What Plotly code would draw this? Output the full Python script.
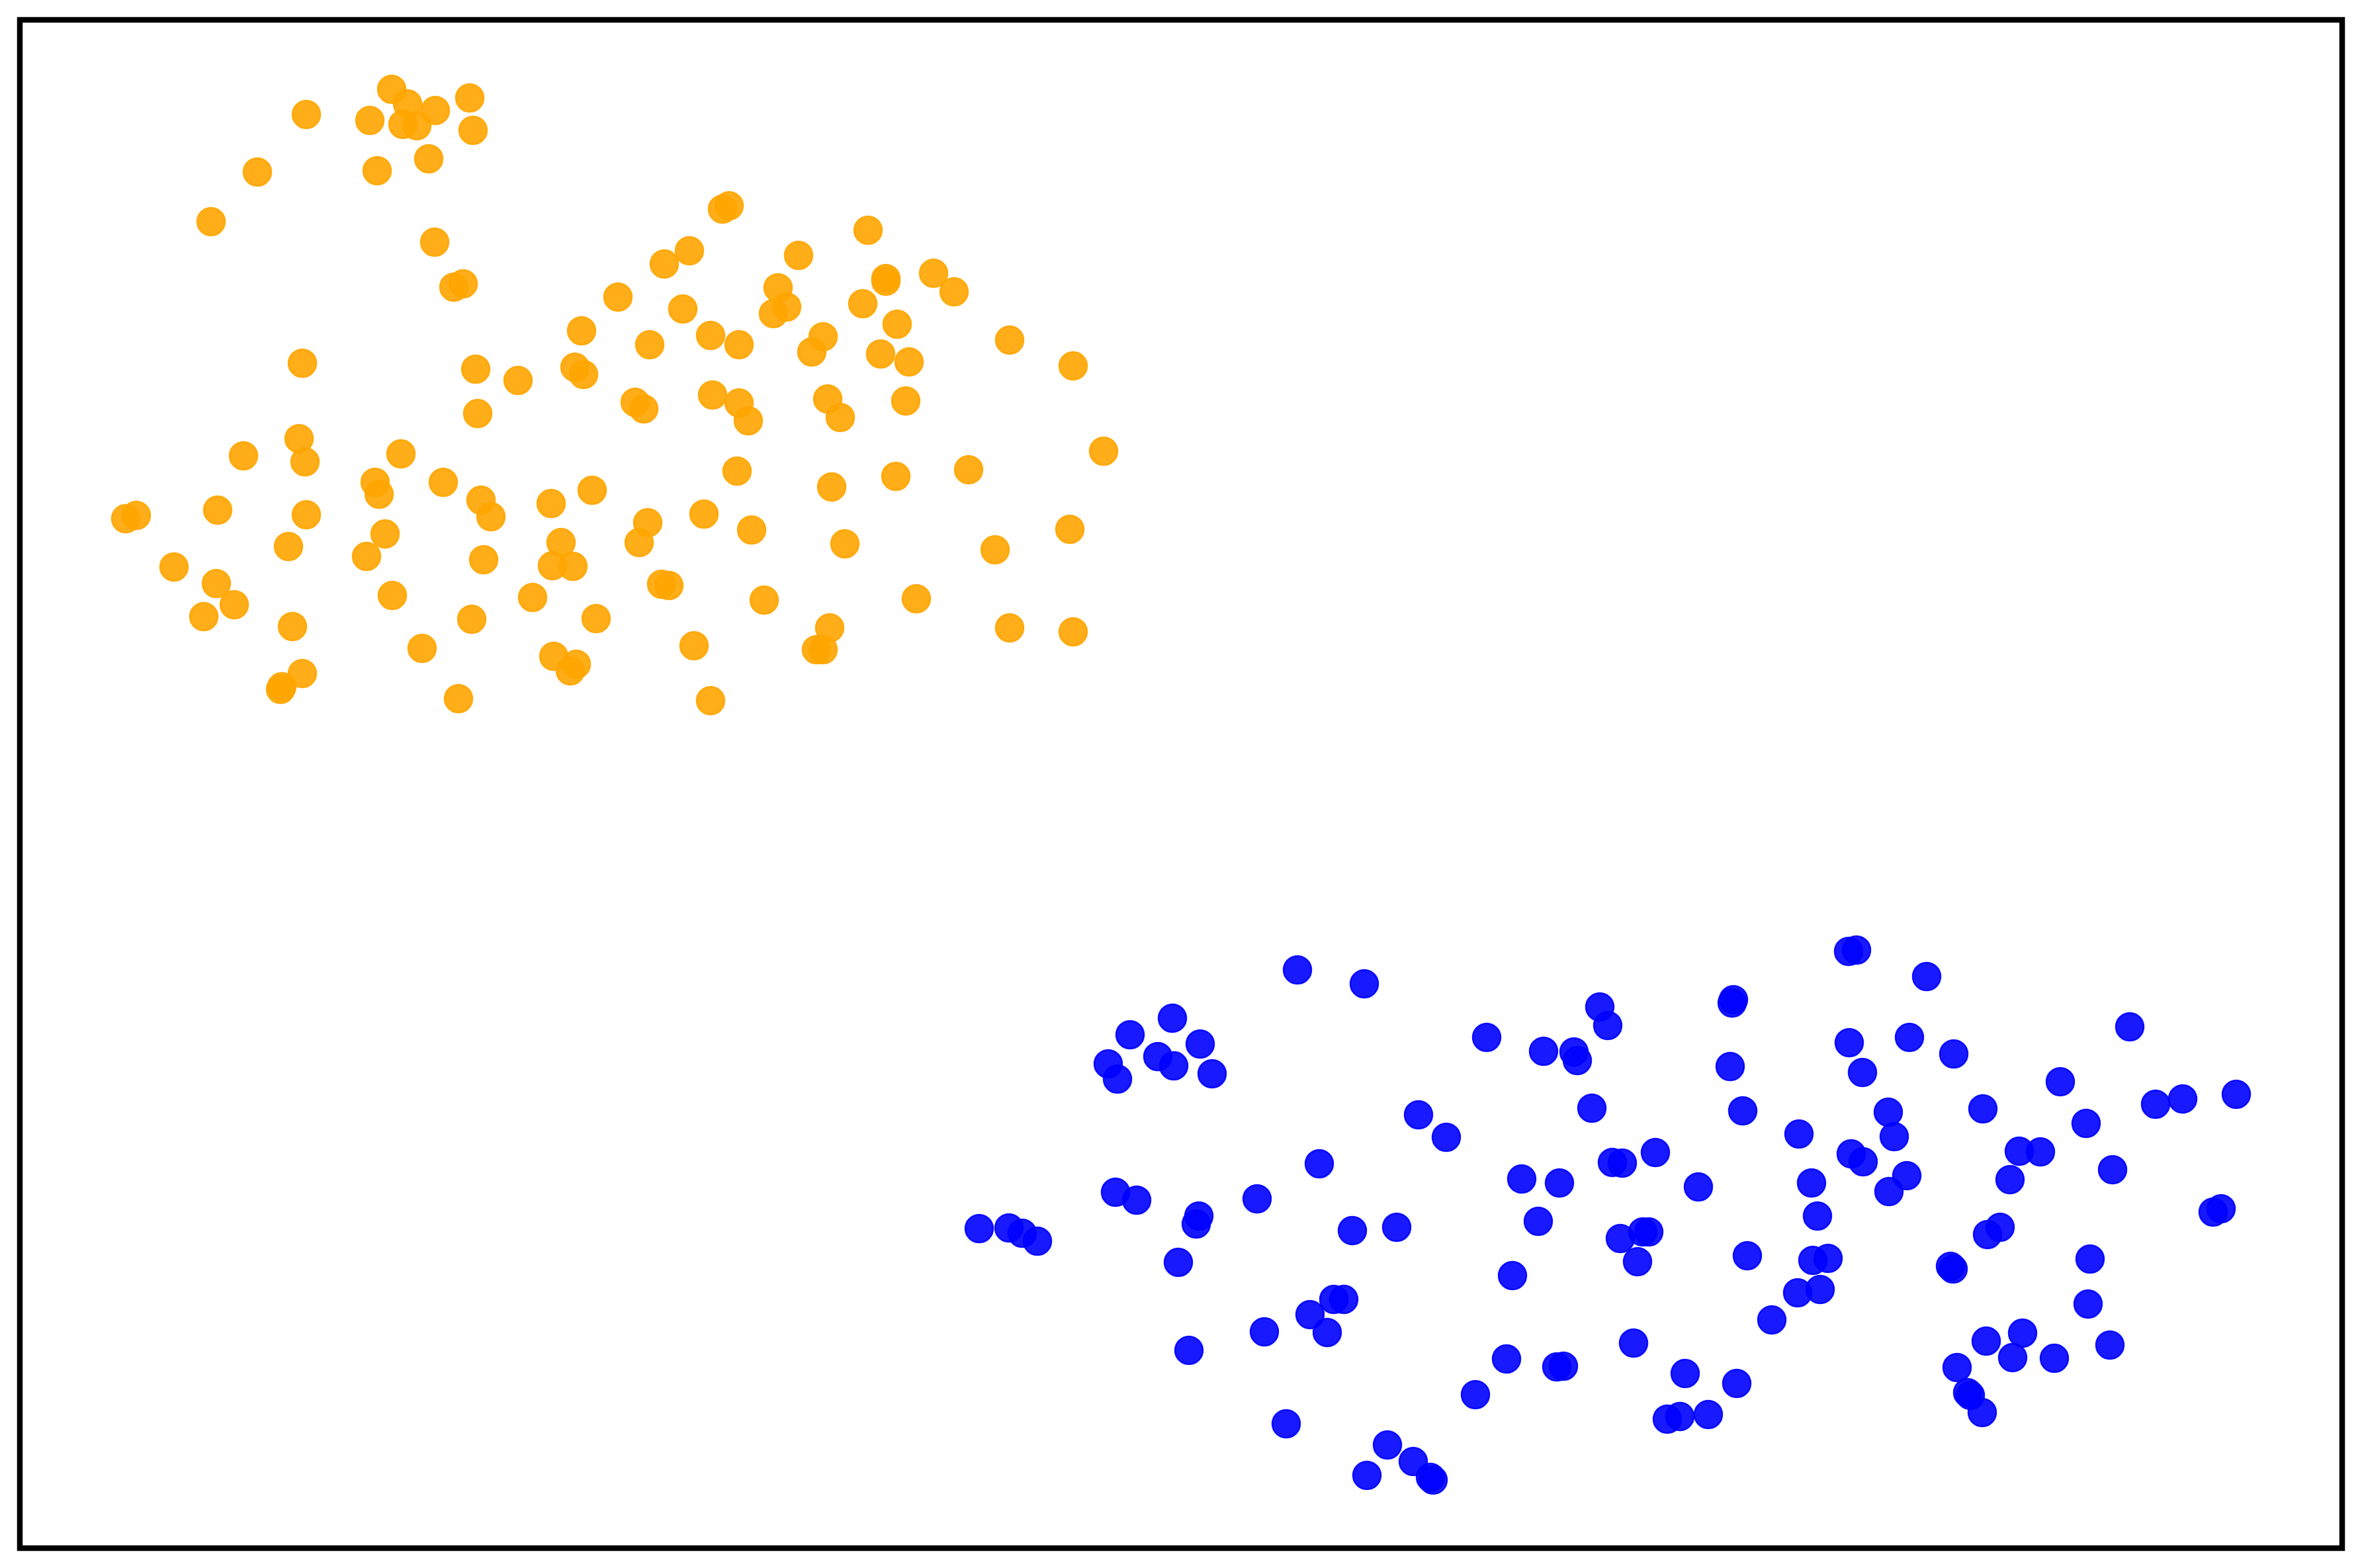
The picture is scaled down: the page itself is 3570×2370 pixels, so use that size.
import plotly.graph_objects as go

# Cluster A (orange) values
orange_x = [592, 616, 658, 710, 463, 559, 609, 630, 715, 648, 389, 570, 319, 657, 686, 700, 934, 879, 457, 719, 783, 869, 882,
            1092, 1102, 1312, 1042, 1004, 1207, 1176, 1339, 1339, 1411, 1442, 1032, 1189, 1169, 1304, 1356, 982, 1074, 1117, 1244,
            1227, 1331, 1374, 1526, 1622,
            960, 973, 1077, 1117, 1131, 1251, 1270, 1369, 1668, 1114, 1257, 1354, 1464, 979, 966, 1064, 1136, 1277, 1617, 1504,
            1000, 1011, 1155, 1385, 1254, 1234, 1244, 1049, 1526, 1622, 1074,
            722, 452, 368, 461, 606, 567, 573, 670, 727, 742, 833, 895, 190, 206, 329, 463, 436, 582, 554, 731, 848, 835, 866,
            263, 327, 354, 308, 593, 805, 901, 713, 442, 638, 837, 871, 862, 457, 424, 426, 693]
orange_y = [135, 157, 167, 148, 173, 182, 188, 190, 197, 240, 260, 258, 335, 366, 434, 429, 449, 500, 549, 558, 575, 555, 566,
            316, 311, 348, 379, 399, 386, 435, 421, 425, 413, 441, 467, 464, 474, 459, 490, 521, 507, 521, 509,
            532, 535, 547, 514, 553,
            608, 618, 597, 609, 636, 603, 631, 606, 682, 712, 736, 720, 710, 790, 820, 777, 801, 822, 800, 831,
            883, 885, 907, 905, 949, 982, 982, 976, 949, 955, 1059,
            625, 663, 689, 698, 686, 729, 747, 729, 756, 781, 761, 741, 784, 779, 771, 778, 826, 807, 841, 846, 820, 855, 856,
            857, 882, 914, 932, 900, 903, 935, 936, 947, 980, 992, 1004, 1014, 1018, 1042, 1038, 1056]

# Cluster B (blue) values
blue_x = [1961, 2062, 1772, 1708, 1814, 1750, 1774, 1675, 1689, 1832, 2418, 2430, 2247, 2333, 2379, 2384, 2144, 2186, 2406,
          1994, 2300, 2357, 1686, 1718, 1900, 1812,
          2794, 2806, 2912, 2618, 2620, 3219, 2795, 2886, 2953, 2615, 2815, 3114, 3380, 3299, 3258, 2634, 2854, 2997, 3153,
          2719, 2863, 2502, 2437, 2452, 2798, 2816, 3052, 3084, 2567, 2738, 2882, 2855, 3038, 3193, 3345, 3357,
          1480, 1525, 1545, 1568, 1808, 2044, 2111, 2325, 1781, 2286, 2016, 2031, 1980, 2006, 1911, 1797, 2277, 2353, 2363,
          2230, 1944, 2097, 2136, 2066, 2162, 2166,
          2449, 2483, 2492, 2475, 2641, 2740, 2763, 2717, 2751, 2678, 3004, 3023, 2948, 2952, 3159, 3156, 2469, 3002, 3057,
          3042, 3105, 3189, 2958, 2547, 2625, 2974, 2978, 2996, 2520, 2539, 2582, 2747]
blue_y = [1466, 1487, 1539, 1564, 1578, 1597, 1611, 1608, 1631, 1623, 1522, 1550, 1568, 1589, 1590, 1603, 1685, 1719, 1675,
          1759, 1782, 1788, 1802, 1814, 1812, 1838,
          1438, 1436, 1476, 1516, 1511, 1552, 1576, 1568, 1593, 1612, 1621, 1635, 1654, 1661, 1669, 1679, 1681, 1676, 1698,
          1714, 1718, 1742, 1757, 1758, 1744, 1756, 1740, 1741, 1794, 1788, 1777, 1801, 1783, 1768, 1832, 1827,
          1857, 1856, 1864, 1876, 1850, 1860, 1855, 1846, 1908, 1928, 1964, 1964, 1987, 2014, 2013, 2041, 2054, 2066, 2065,
          2108, 2152, 2184, 2209, 2230, 2233, 2237,
          1872, 1862, 1862, 1907, 1898, 1905, 1902, 1954, 1949, 1995, 1866, 1855, 1914, 1918, 1903, 1971, 2030, 2027, 2015,
          2052, 2053, 2033, 2067, 2076, 2091, 2105, 2109, 2135, 2145, 2141, 2138, 1838]

W, H = 3570, 2370
fig = go.Figure()
for xs, ys, col in [(orange_x, orange_y, "rgba(255,165,0,0.9)"), (blue_x, blue_y, "rgba(0,0,255,0.9)")]:
    fig.add_trace(go.Scatter(
        x=xs, y=ys, mode="markers",
        marker=dict(size=42, color=col, line=dict(color=col, width=2.5)),
        showlegend=False, hoverinfo="skip"))

fig.update_layout(
    width=W, height=H,
    margin=dict(l=30, r=30, t=30, b=30, pad=0),
    paper_bgcolor="white", plot_bgcolor="white",
    xaxis=dict(range=[30, 3540], showgrid=False, zeroline=False, showticklabels=False, ticks="", showline=False),
    yaxis=dict(range=[2340, 30], showgrid=False, zeroline=False, showticklabels=False, ticks="", showline=False),
    shapes=[dict(type="rect", xref="paper", yref="paper", x0=0, y0=0, x1=1, y1=1,
                 line=dict(color="black", width=8.5), fillcolor="rgba(0,0,0,0)", layer="above")],
)

fig.write_html("out.html", config={"displayModeBar": False},
               post_script="document.body.style.margin='0';document.body.style.overflow='hidden';")
